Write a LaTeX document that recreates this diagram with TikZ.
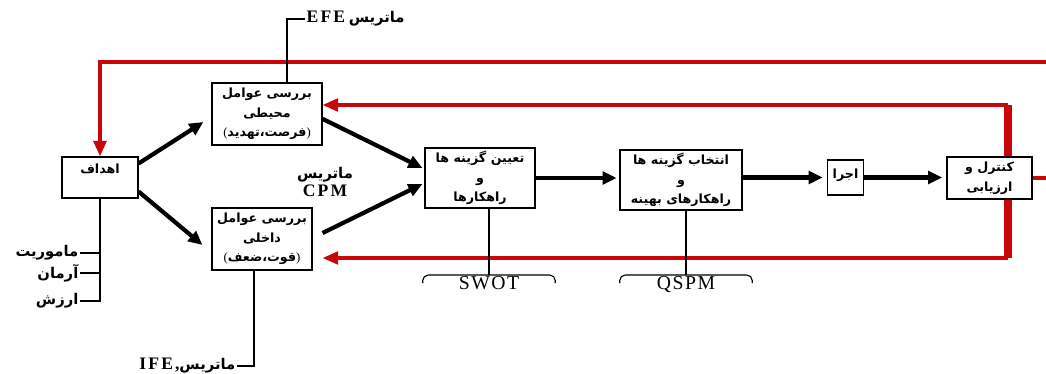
\documentclass[tikz,border=0pt]{standalone}
\usepackage{fontspec}
\setmainfont{Liberation Serif}
\newfontfamily\farsi[Script=Arabic]{DejaVu Sans}
\newfontfamily\widerm[LetterSpace=8]{Liberation Serif}
\newfontfamily\widebf[LetterSpace=12]{Liberation Serif}
\TeXXeTstate=1
\usetikzlibrary{arrows.meta}
\definecolor{loopred}{RGB}{200,8,8}
\newcommand{\fa}[1]{{\farsi\bfseries\beginR #1\endR}}
\newcommand{\la}[1]{{\widebf\bfseries\fontsize{12.5}{14}\selectfont #1}}
\begin{document}
\begin{tikzpicture}[x=0.025cm,y=-0.025cm,
		block/.style={draw,line width=0.8pt,fill=white,align=center,inner sep=1pt,font=\fontsize{9}{14}\selectfont},
		flow/.style={line width=3pt,-{Triangle[length=10pt,width=9pt]}},
		feedback/.style={draw=loopred,line width=2.2pt},
		feedbackin/.style={feedback,-{Triangle[length=11pt,width=9pt]}},
		tie/.style={line width=0.8pt},
		tag/.style={font=\fontsize{10.5}{13}\selectfont,inner sep=1pt},
		matrixtag/.style={inner sep=0pt,text height=10pt,text depth=1pt,font=\widerm\fontsize{14}{16}\selectfont}]
	\useasboundingbox (0,0) rectangle (1046,374);
	\coordinate (fbtop) at (1008,105);
	\coordinate (fbbot) at (1008,258);
	\coordinate (edge) at (1046,62);
	\draw[feedback,line width=5pt] (fbtop) -- (fbbot);
	\node[block,minimum width=1.9cm,minimum height=1.025cm,text depth=0.45cm] (goal) at (100,177.5) {\fa{اهداف}};
	\node[block,minimum width=2.75cm,minimum height=1.55cm] (env) at (267,114) {\fa{بررسی عوامل}\\\fa{محیطی}\\(\fa{فرصت،تهدید})};
	\node[block,minimum width=2.5cm,minimum height=1.55cm] (intern) at (262,239) {\fa{بررسی عوامل}\\\fa{داخلی}\\(\fa{قوت،ضعف})};
	\node[block,minimum width=2.75cm,minimum height=1.5cm] (choose) at (480,178) {\fa{تعیین گزینه ها}\\\fa{و}\\\fa{راهکارها}};
	\node[block,minimum width=3.05cm,minimum height=1.5cm] (select) at (681,180) {\fa{انتخاب گزینه ها}\\\fa{و}\\\fa{راهکارهای بهینه}};
	\node[block,minimum width=0.9cm,minimum height=0.875cm,text depth=0.2cm] (impl) at (845.5,177.5) {\fa{اجرا}};
	\node[block,minimum width=2.125cm,minimum height=1.05cm] (control) at (989.5,178) {\fa{کنترل و}\\\fa{ارزیابی}};
	\node[tag,anchor=west] (efe) at (305,19) {\la{EFE}\ \fa{ماتریس}};
	\node[tag,anchor=east] (ife) at (237,366) {\la{IFE,}\fa{ماتریس}};
	\node[tag,align=center] (cpm) at (325,182) {\fa{ماتریس}\\\la{CPM}};
	\node[tag,anchor=east] (mission) at (80,253) {\fa{ماموریت}};
	\node[tag,anchor=east] (vision) at (80,273) {\fa{آرمان}};
	\node[tag,anchor=east] (values) at (80,301) {\fa{ارزش}};
	\node[matrixtag,minimum width=3.3cm] (swot) at (489,283) {SWOT};
	\node[matrixtag,minimum width=3.3cm] (qspm) at (686,283) {QSPM};
	\draw[flow] (goal.20) -- ([shift={(-8,8)}]env.west);
	\draw[flow] (goal.-20) -- ([shift={(-9,6)}]intern.west);
	\draw[flow] (env.-5) -- ([shift={(-2,-10)}]choose.west);
	\draw[flow] ([shift={(10,-6)}]intern.east) -- ([shift={(-2,6)}]choose.west);
	\draw[flow,shorten >=2pt] (choose.east) -- (choose.east -| select.west);
	\draw[flow,shorten >=3pt] (select.east |- impl.west) -- (impl.west);
	\draw[flow,shorten >=3pt] (impl.east) -- (impl.east -| control.west);
	\draw[feedbackin] (fbtop) -- (fbtop -| env.east);
	\draw[feedbackin] (fbbot) -- (fbbot -| env.east);
	\draw[feedbackin,line width=3pt] (edge) -| (goal.north);
	\draw[feedback] (control.east) -- (control.east -| edge);
	\draw[tie] (goal.south) |- (mission.east);
	\draw[tie] (goal.south) |- (vision.east);
	\draw[tie] (goal.south) |- (values.east);
	\draw[tie] ([xshift=0.5cm]env.north) |- (efe.west);
	\draw[tie] ([xshift=-0.2cm]intern.south) |- (ife.east);
	\draw[tie] (choose.south -| swot.north) -- (swot.north);
	\draw[tie] (select.south -| qspm.north) -- (qspm.north);
	\draw[tie,rounded corners=4pt] (swot.west) |- (swot.north) -| (swot.east);
	\draw[tie,rounded corners=4pt] (qspm.west) |- (qspm.north) -| (qspm.east);
\end{tikzpicture}
\end{document}
